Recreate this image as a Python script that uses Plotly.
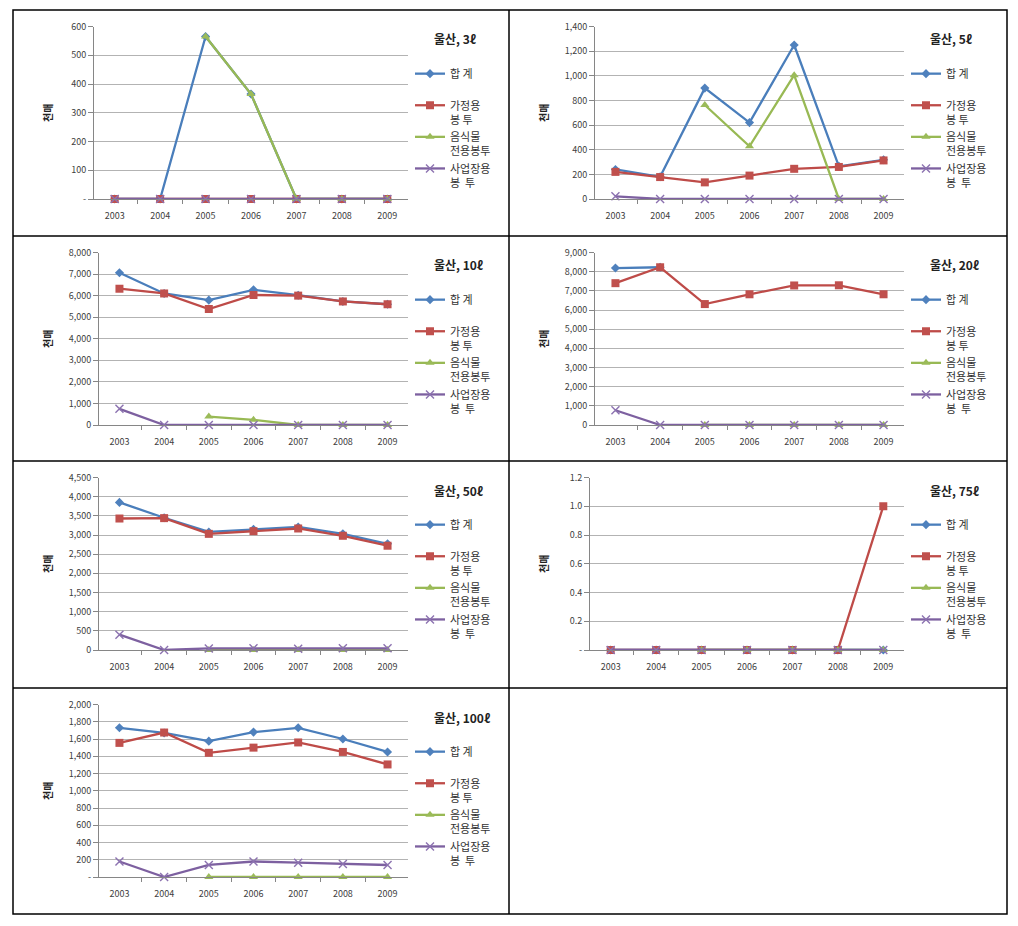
import plotly.graph_objects as go

W, H = 1018, 926

years = ["2003", "2004", "2005", "2006", "2007", "2008", "2009"]
series_names = ["합 계", "가정용", "음식물", "사업장용"]
series_second_lines = ["\u00a0", "봉 투", "전용봉투", "봉  투"]
panel_titles = ["울산, 3ℓ", "울산, 5ℓ", "울산, 10ℓ", "울산, 20ℓ", "울산, 50ℓ", "울산, 75ℓ", "울산, 100ℓ"]
y_title = "천매"

# ---- data (천매) ----
total_3 = [0, 0, 565, 365, 0, 0, 0]
home_3 = [0, 0, 0, 0, 0, 0, 0]
food_3 = [None, None, 565, 365, 0, 0, 0]
biz_3 = [0, 0, 0, 0, 0, 0, 0]

total_5 = [240, 180, 900, 620, 1250, 265, 318]
home_5 = [220, 178, 135, 190, 245, 260, 313]
food_5 = [None, None, 763, 428, 1005, 0, 0]
biz_5 = [22, 0, 0, 0, 0, 0, 0]

total_10 = [7060, 6100, 5790, 6270, 6020, 5730, 5600]
home_10 = [6320, 6100, 5380, 6030, 6000, 5730, 5600]
food_10 = [None, None, 390, 240, 0, 0, 0]
biz_10 = [750, 0, 0, 0, 0, 0, 0]

total_20 = [8190, 8230, None, None, None, None, None]
home_20 = [7400, 8230, 6310, 6820, 7280, 7290, 6820]
food_20 = [None, None, 0, 0, 0, 0, 0]
biz_20 = [770, 0, 0, 0, 0, 0, 0]

total_50 = [3850, 3450, 3080, 3150, 3210, 3030, 2770]
home_50 = [3430, 3440, 3030, 3100, 3170, 2980, 2720]
food_50 = [None, None, 0, 0, 0, 0, 0]
biz_50 = [400, 0, 40, 45, 35, 45, 45]

total_75 = [0, 0, 0, 0, 0, 0, 0]
home_75 = [0, 0, 0, 0, 0, 0, 1]
food_75 = [None, None, 0, 0, 0, 0, 0]
biz_75 = [0, 0, 0, 0, 0, 0, 0]

total_100 = [1730, 1670, 1575, 1680, 1730, 1600, 1450]
home_100 = [1555, 1675, 1440, 1500, 1560, 1450, 1305]
food_100 = [None, None, 0, 0, 0, 0, 0]
biz_100 = [180, 0, 140, 180, 166, 151, 139]

# y tick values / labels per panel
yticks_3 = [0, 100, 200, 300, 400, 500, 600]
ylabels_3 = ["-", "100", "200", "300", "400", "500", "600"]
yticks_5 = [0, 200, 400, 600, 800, 1000, 1200, 1400]
ylabels_5 = ["0", "200", "400", "600", "800", "1,000", "1,200", "1,400"]
yticks_10 = [0, 1000, 2000, 3000, 4000, 5000, 6000, 7000, 8000]
ylabels_10 = ["0", "1,000", "2,000", "3,000", "4,000", "5,000", "6,000", "7,000", "8,000"]
yticks_20 = [0, 1000, 2000, 3000, 4000, 5000, 6000, 7000, 8000, 9000]
ylabels_20 = ["0", "1,000", "2,000", "3,000", "4,000", "5,000", "6,000", "7,000", "8,000", "9,000"]
yticks_50 = [0, 500, 1000, 1500, 2000, 2500, 3000, 3500, 4000, 4500]
ylabels_50 = ["0", "500", "1,000", "1,500", "2,000", "2,500", "3,000", "3,500", "4,000", "4,500"]
yticks_75 = [0, 0.2, 0.4, 0.6, 0.8, 1.0, 1.2]
ylabels_75 = ["-", "0.2", "0.4", "0.6", "0.8", "1.0", "1.2"]
yticks_100 = [0, 200, 400, 600, 800, 1000, 1200, 1400, 1600, 1800, 2000]
ylabels_100 = ["-", "200", "400", "600", "800", "1,000", "1,200", "1,400", "1,600", "1,800", "2,000"]

panels = [
    ([total_3, home_3, food_3, biz_3], yticks_3, ylabels_3),
    ([total_5, home_5, food_5, biz_5], yticks_5, ylabels_5),
    ([total_10, home_10, food_10, biz_10], yticks_10, ylabels_10),
    ([total_20, home_20, food_20, biz_20], yticks_20, ylabels_20),
    ([total_50, home_50, food_50, biz_50], yticks_50, ylabels_50),
    ([total_75, home_75, food_75, biz_75], yticks_75, ylabels_75),
    ([total_100, home_100, food_100, biz_100], yticks_100, ylabels_100),
]

# ---- styling ----
line_colors = ["#4A7EBB", "#BE4B48", "#98B954", "#7D60A0"]
marker_styles = [
    dict(symbol="diamond", size=7, color="#4F81BD"),
    dict(symbol="square", size=8, color="#C0504D"),
    dict(symbol="triangle-up", size=8, color="#9BBB59"),
    dict(symbol="x-thin", size=8, color="#8064A2", line=dict(width=1.4, color="#8C72B0")),
]
FONT = "Noto Sans CJK KR"
col_left = [13, 509]
row_top = [10, 236, 461, 688]


def fx(px):
    return px / W


def fy(py):
    return 1 - py / H


fig = go.Figure()
layout = dict(
    width=W, height=H, autosize=False,
    margin=dict(l=0, r=0, t=0, b=0, pad=0, autoexpand=False),
    paper_bgcolor="white", plot_bgcolor="white",
    font=dict(family=FONT, size=9, color="#404040"),
    showlegend=True,
)
annotations = []
shapes = []

for i, (series, yt, yl) in enumerate(panels):
    col, row = i % 2, i // 2
    pl, pt = col_left[col], row_top[row]
    xl_rel = 81 if len(yl[-1]) <= 3 else 86
    suffix = "" if i == 0 else str(i + 1)
    legend_id = "legend" + suffix
    for k in range(4):
        fig.add_trace(go.Scatter(
            x=years, y=series[k],
            name=series_names[k] + "<br>" + series_second_lines[k],
            mode="lines+markers",
            line=dict(color=line_colors[k], width=2.3),
            marker=marker_styles[k],
            cliponaxis=False,
            xaxis="x" + suffix, yaxis="y" + suffix,
            legend=legend_id,
            hoverinfo="x+y+name",
        ))
    layout["xaxis" + suffix] = dict(
        domain=[fx(pl + xl_rel), fx(pl + 395)],
        anchor="y" + suffix, type="category",
        showline=True, linecolor="#868686", linewidth=1,
        ticks="outside", tickson="boundaries", ticklen=4, tickcolor="#868686",
        showgrid=False, zeroline=False,
        tickfont=dict(size=9, color="#404040"),
        ticklabelstandoff=8,
        automargin=False,
        fixedrange=True,
    )
    layout["yaxis" + suffix] = dict(
        domain=[fy(pt + 189), fy(pt + 16.5)],
        anchor="x" + suffix,
        range=[yt[0], yt[-1]],
        tickmode="array", tickvals=yt, ticktext=yl,
        showline=True, linecolor="#868686", linewidth=1,
        ticks="outside", ticklen=5, tickcolor="#868686",
        showgrid=True, gridcolor="#B3B3B3", gridwidth=1,
        zeroline=False,
        tickfont=dict(size=9, color="#404040"),
        automargin=False,
        fixedrange=True,
    )
    layout[legend_id] = dict(
        x=fx(pl + 397), xanchor="left",
        y=fy(pt + 50), yanchor="top",
        bgcolor="rgba(0,0,0,0)", borderwidth=0,
        font=dict(family=FONT, size=11, color="#333333"),
        valign="top", itemwidth=30,
        tracegroupgap=0,
    )
    annotations.append(dict(
        x=fx(pl + 419), y=fy(pt + 29), xref="paper", yref="paper",
        xanchor="left", yanchor="middle", showarrow=False,
        text="<b>" + panel_titles[i] + "</b>",
        font=dict(family=FONT, size=12, color="#222222"),
    ))
    annotations.append(dict(
        x=fx(pl + 34), y=fy(pt + 103), xref="paper", yref="paper",
        xanchor="center", yanchor="middle", showarrow=False,
        text="<b>" + y_title + "</b>", textangle=-90,
        font=dict(family=FONT, size=10, color="#222222"),
    ))

# table borders
bx0, bx1, by0, by1 = 13, 1007, 10, 914
border = dict(color="black", width=1.5)
shapes.append(dict(type="rect", xref="paper", yref="paper",
                   x0=fx(bx0), x1=fx(bx1), y0=fy(by1), y1=fy(by0), line=border))
shapes.append(dict(type="line", xref="paper", yref="paper",
                   x0=fx(509), x1=fx(509), y0=fy(by1), y1=fy(by0), line=border))
for yy in row_top[1:]:
    shapes.append(dict(type="line", xref="paper", yref="paper",
                       x0=fx(bx0), x1=fx(bx1), y0=fy(yy), y1=fy(yy), line=border))

layout["annotations"] = annotations
layout["shapes"] = shapes
fig.update_layout(**layout)

fig.write_html("out.html", config={"displayModeBar": False},
               post_script="document.body.style.margin='0';")
